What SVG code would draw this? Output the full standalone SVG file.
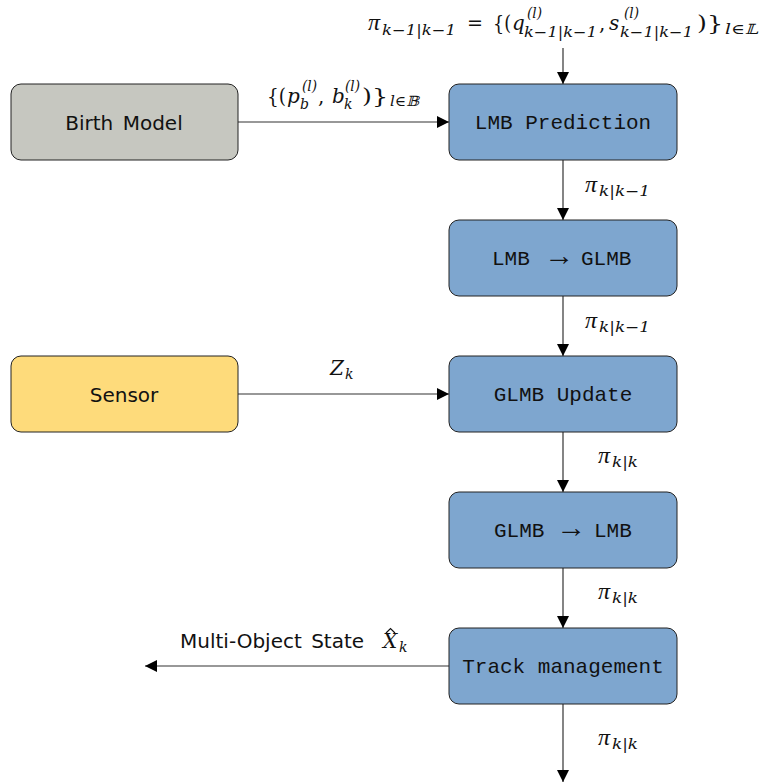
<svg xmlns="http://www.w3.org/2000/svg" width="760" height="784" viewBox="0 0 760 784">
<defs>
<style>
.box{stroke:#222;stroke-width:1}
.blue{fill:#7ea6cf}
.gray{fill:#c6c7c0}
.yellow{fill:#fedb7b}
.mono{font-family:"Liberation Mono","DejaVu Sans Mono",monospace;font-size:21px;fill:#111;text-anchor:middle}
.mst{font-family:"Liberation Mono","DejaVu Sans Mono",monospace;font-size:21px;fill:#111}
.arr{font-family:"Liberation Serif","DejaVu Serif",serif;font-size:28px;fill:#111}
.sans{font-family:"DejaVu Sans","Liberation Sans",sans-serif;font-size:20px;fill:#111;text-anchor:middle;word-spacing:3px}
.m{font-family:"DejaVu Serif","Liberation Serif",serif;fill:#111;font-size:20px}
.pi{font-family:"Liberation Serif","DejaVu Serif",serif;font-style:italic;fill:#111;font-size:24px}
.i{font-style:italic}
.s{font-size:14px}
.conn line{stroke:#333;stroke-width:1.2}
</style>
<marker id="ah" viewBox="0 0 10 10" refX="10" refY="5" markerWidth="12" markerHeight="12" markerUnits="userSpaceOnUse" orient="auto">
<path d="M0,0 L10,5 L0,10 z" fill="#000"/>
</marker>
</defs>
<rect width="760" height="784" fill="#fff"/>

<g id="connectors" class="conn">
<line x1="563" y1="48" x2="563" y2="84" marker-end="url(#ah)"/>
<line x1="563" y1="160" x2="563" y2="220" marker-end="url(#ah)"/>
<line x1="563" y1="296" x2="563" y2="356" marker-end="url(#ah)"/>
<line x1="563" y1="432" x2="563" y2="492" marker-end="url(#ah)"/>
<line x1="563" y1="568" x2="563" y2="628" marker-end="url(#ah)"/>
<line x1="563" y1="704" x2="563" y2="782" marker-end="url(#ah)"/>
<line x1="238" y1="122" x2="449" y2="122" marker-end="url(#ah)"/>
<line x1="238" y1="394" x2="449" y2="394" marker-end="url(#ah)"/>
<line x1="449" y1="666" x2="145" y2="666" marker-end="url(#ah)"/>
</g>

<g id="birth">
<rect class="box gray" x="11" y="84" width="227" height="76" rx="10"/>
<text class="sans" x="124" y="130">Birth Model</text>
</g>
<g id="sensor">
<rect class="box yellow" x="11" y="356" width="227" height="76" rx="10"/>
<text class="sans" x="124" y="402">Sensor</text>
</g>
<g id="lmb-prediction">
<rect class="box blue" x="449" y="84" width="228" height="76" rx="10"/>
<text class="mono" x="563" y="129">LMB Prediction</text>
</g>
<g id="lmb-to-glmb">
<rect class="box blue" x="449" y="220" width="228" height="76" rx="10"/>
<text y="265"><tspan class="mst" x="492">LMB</tspan><tspan class="arr" x="544" textLength="30" lengthAdjust="spacingAndGlyphs">→</tspan><tspan class="mst" x="581">GLMB</tspan></text>
</g>
<g id="glmb-update">
<rect class="box blue" x="449" y="356" width="228" height="76" rx="10"/>
<text class="mono" x="563" y="401">GLMB Update</text>
</g>
<g id="glmb-to-lmb">
<rect class="box blue" x="449" y="492" width="228" height="76" rx="10"/>
<text y="537"><tspan class="mst" x="494">GLMB</tspan><tspan class="arr" x="556" textLength="30" lengthAdjust="spacingAndGlyphs">→</tspan><tspan class="mst" x="594">LMB</tspan></text>
</g>
<g id="track-management">
<rect class="box blue" x="449" y="628" width="228" height="76" rx="10"/>
<text class="mono" x="563" y="673">Track management</text>
</g>

<g id="labels">
<!-- top formula -->
<text class="pi" x="368" y="30">π</text>
<text class="m i s" x="382" y="35" textLength="74" lengthAdjust="spacingAndGlyphs">k−1|k−1</text>
<text class="m" x="467" y="30" textLength="16" lengthAdjust="spacingAndGlyphs">=</text>
<text class="m" x="493" y="30" textLength="18" lengthAdjust="spacingAndGlyphs">{(</text>
<text class="m i" x="512" y="30">q</text>
<text class="m i s" x="527" y="18" textLength="15" lengthAdjust="spacingAndGlyphs">(l)</text>
<text class="m i s" x="524" y="37" textLength="73" lengthAdjust="spacingAndGlyphs">k−1|k−1</text>
<text class="m" x="599" y="30">,</text>
<text class="m i" x="609" y="30">s</text>
<text class="m i s" x="624" y="18" textLength="15" lengthAdjust="spacingAndGlyphs">(l)</text>
<text class="m i s" x="620" y="37" textLength="73" lengthAdjust="spacingAndGlyphs">k−1|k−1</text>
<text class="m" x="697" y="30" textLength="26" lengthAdjust="spacingAndGlyphs">)}</text>
<text class="m i s" x="725" y="34" textLength="33" lengthAdjust="spacingAndGlyphs">l∈𝕃</text>

<!-- birth label -->
<text class="m" x="267" y="103" textLength="19" lengthAdjust="spacingAndGlyphs">{(</text>
<text class="m i" x="287" y="103">p</text>
<text class="m i s" x="302" y="91" textLength="15" lengthAdjust="spacingAndGlyphs">(l)</text>
<text class="m i s" x="300" y="109">b</text>
<text class="m" x="318" y="103">,</text>
<text class="m i" x="332" y="103">b</text>
<text class="m i s" x="345" y="91" textLength="15" lengthAdjust="spacingAndGlyphs">(l)</text>
<text class="m i s" x="344" y="109">k</text>
<text class="m" x="362" y="103" textLength="26" lengthAdjust="spacingAndGlyphs">)}</text>
<text class="m i s" x="390" y="106" textLength="29" lengthAdjust="spacingAndGlyphs">l∈𝔹</text>

<!-- Z_k -->
<text class="m i" x="330" y="375">Z</text>
<text class="m i s" x="345" y="379">k</text>

<!-- pi labels -->
<text class="pi" x="585" y="192">π</text><text class="m i s" x="599" y="196" textLength="51" lengthAdjust="spacingAndGlyphs">k|k−1</text>
<text class="pi" x="585" y="328">π</text><text class="m i s" x="599" y="332" textLength="51" lengthAdjust="spacingAndGlyphs">k|k−1</text>
<text class="pi" x="598" y="463">π</text><text class="m i s" x="612" y="467" textLength="26" lengthAdjust="spacingAndGlyphs">k|k</text>
<text class="pi" x="598" y="599">π</text><text class="m i s" x="612" y="603" textLength="26" lengthAdjust="spacingAndGlyphs">k|k</text>
<text class="pi" x="598" y="745">π</text><text class="m i s" x="612" y="749" textLength="26" lengthAdjust="spacingAndGlyphs">k|k</text>

<!-- output label -->
<text class="sans" x="180" y="648" style="text-anchor:start">Multi-Object State</text>
<text class="m i" x="383" y="648">X</text>
<path d="M386,633 L390.5,628.5 L395,633" fill="none" stroke="#111" stroke-width="1.2"/>
<text class="m i s" x="399" y="652">k</text>
</g>
</svg>
